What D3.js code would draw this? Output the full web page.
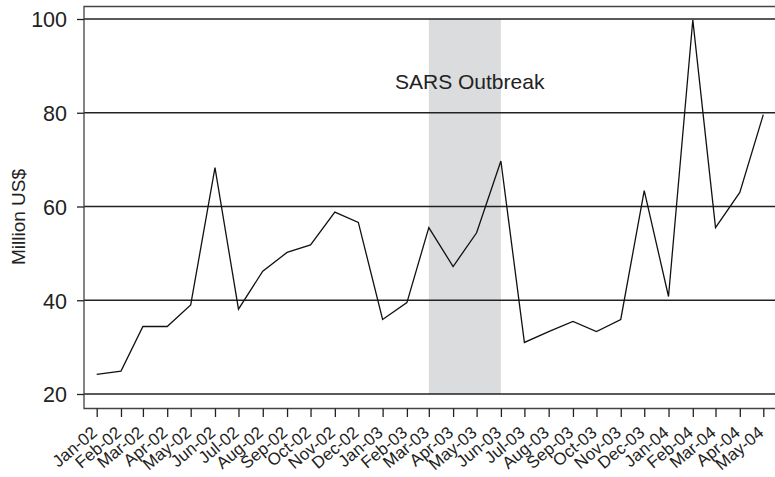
<!DOCTYPE html>
<html>
<head>
<meta charset="utf-8">
<script src="https://cdnjs.cloudflare.com/ajax/libs/d3/7.8.5/d3.min.js"></script>
<style>
  html, body { margin: 0; padding: 0; background: #fff; }
  svg { display: block; }
  text { font-family: "Liberation Sans", Arial, sans-serif; fill: #222; }
</style>
</head>
<body>
<svg id="chart" width="775" height="477"></svg>
<script>
// ---- data ----
const months = ["Jan-02","Feb-02","Mar-02","Apr-02","May-02","Jun-02","Jul-02","Aug-02","Sep-02","Oct-02","Nov-02","Dec-02",
                "Jan-03","Feb-03","Mar-03","Apr-03","May-03","Jun-03","Jul-03","Aug-03","Sep-03","Oct-03","Nov-03","Dec-03",
                "Jan-04","Feb-04","Mar-04","Apr-04","May-04"];
const values = [24.2, 24.9, 34.4, 34.4, 39.0, 68.3, 38.1, 46.2, 50.2, 51.8, 58.8, 56.6,
                35.9, 39.5, 55.5, 47.2, 54.4, 69.7, 31.0, 33.3, 35.5, 33.3, 35.9, 63.4,
                40.8, 99.8, 55.5, 63.0, 79.6];
const yTicks = [20, 40, 60, 80, 100];
const shadeStart = "Mar-03";
const shadeEnd = "Jun-03";
const shadeLabel = "SARS Outbreak";
const yLabel = "Million US$";

const parse = d3.timeParse("%b-%y");
const dates = months.map(parse);

const svg = d3.select("#chart");

const x = d3.scaleTime()
  .domain([dates[0], dates[dates.length - 1]])
  .range([96.7, 763.3]);
const y = d3.scaleLinear().domain([20, 100]).range([394, 19]);

const frameLeft = 84, frameTop = 6.5, frameBottom = 408.5, frameRight = 790;
const ink = "#222";

// shaded SARS region
svg.append("rect")
  .attr("x", x(parse(shadeStart)))
  .attr("y", y(100))
  .attr("width", x(parse(shadeEnd)) - x(parse(shadeStart)))
  .attr("height", y(20) - y(100))
  .attr("fill", "#dbdcde");

// gridlines
svg.append("g").selectAll("line").data(yTicks).join("line")
  .attr("x1", frameLeft).attr("x2", 775)
  .attr("y1", d => y(d)).attr("y2", d => y(d))
  .attr("stroke", ink).attr("stroke-width", 1.3);

// frame
svg.append("path")
  .attr("d", `M${frameRight},${frameTop}H${frameLeft}V${frameBottom}H${frameRight}`)
  .attr("fill", "none").attr("stroke", "#444").attr("stroke-width", 1.3);

// y axis ticks & labels
const yAxis = d3.axisLeft(y).tickValues(yTicks).tickSize(7).tickPadding(9);
const gy = svg.append("g").attr("transform", `translate(${frameLeft},0)`).call(yAxis);
gy.select(".domain").remove();
gy.selectAll(".tick line").attr("stroke", ink).attr("stroke-width", 1.3);
gy.selectAll(".tick text")
  .style("font-family", '"Liberation Sans", Arial, sans-serif')
  .style("font-size", "21.5px").attr("fill", ink)
  .attr("x", -17).attr("dy", "0.36em");

// x axis ticks & labels
const xAxis = d3.axisBottom(x).tickValues(dates).tickSize(8.5).tickFormat((d, i) => months[i]);
const gx = svg.append("g").attr("transform", `translate(0,${frameBottom})`).call(xAxis);
gx.select(".domain").remove();
gx.selectAll(".tick line").attr("stroke", ink).attr("stroke-width", 1.3);
gx.selectAll(".tick text")
  .style("font-family", '"Liberation Sans", Arial, sans-serif')
  .style("font-size", "17px").attr("fill", ink)
  .attr("text-anchor", "end")
  .attr("dy", null)
  .attr("y", null)
  .attr("transform", "translate(1,26) rotate(-40)");

// line
const line = d3.line().x((d, i) => x(dates[i])).y(d => y(d));
svg.append("path")
  .datum(values)
  .attr("d", line)
  .attr("fill", "none").attr("stroke", "#111").attr("stroke-width", 1.3)
  .attr("stroke-linejoin", "miter");

// SARS label
svg.append("text")
  .attr("x", 395).attr("y", 88.5)
  .style("font-size", "21px").attr("fill", ink)
  .text(shadeLabel);

// y axis label
svg.append("text")
  .attr("transform", "translate(25,217) rotate(-90)")
  .attr("text-anchor", "middle")
  .style("font-size", "19px").attr("fill", ink)
  .text(yLabel);
</script>
</body>
</html>
